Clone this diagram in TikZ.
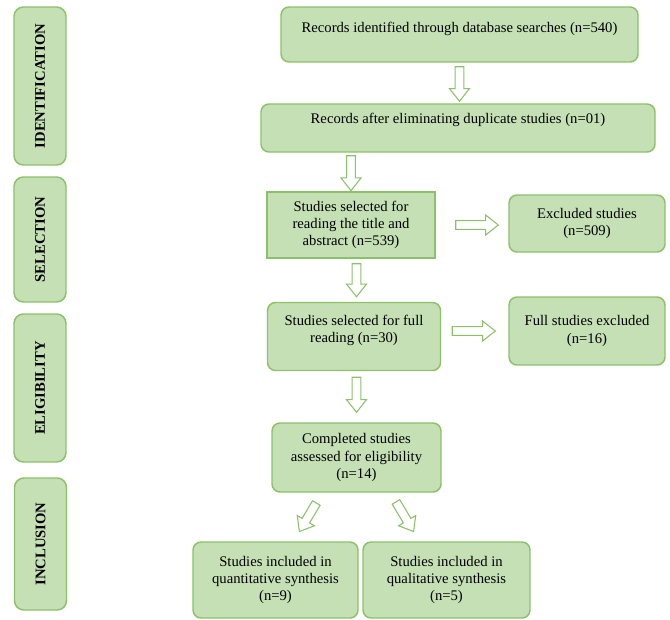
\documentclass[tikz,border=0pt]{standalone}
\usepackage{fontspec}
\setmainfont{Liberation Serif}
\usetikzlibrary{positioning, calc}

\definecolor{boxfill}{HTML}{C5E0B4}
\definecolor{boxline}{HTML}{8CC16A}

\begin{document}
\begin{tikzpicture}[x=0.75pt, y=-0.75pt,
  box/.style={draw=boxline, line width=1.1pt, fill=boxfill, rounded corners=6pt,
    align=center, inner sep=2pt, font=\fontsize{11}{13}\selectfont},
  stage/.style={box, rotate=90, rounded corners=7pt, minimum height=39pt,
    font=\fontsize{11}{13}\selectfont\bfseries},
  flow/.style 2 args={draw=boxline, fill=white, line width=0.8pt, to path={
    ($(\tikztostart)!#1!(\tikztotarget)$) coordinate (fs)
    ($(\tikztotarget)!#2!(\tikztostart)$) coordinate (ft)
    ($(ft)!9.5pt!(fs)$) coordinate (fn)
    ($(fs)!3.3pt!90:(ft)$) -- ($(fn)!3.3pt!-90:(fs)$) -- ($(fn)!7.5pt!-90:(fs)$)
    -- (ft) -- ($(fn)!7.5pt!90:(fs)$) -- ($(fn)!3.3pt!90:(fs)$)
    -- ($(fs)!3.3pt!-90:(ft)$) -- cycle}}]
  \useasboundingbox (0,0) rectangle (670,619);

  % stages
  \node[stage, minimum width=118.5pt] (ident) at (40,86) {IDENTIFICATION};
  \node[stage, minimum width=93.75pt] (select) at (40,239.5) {SELECTION};
  \node[stage, minimum width=111pt] (elig) at (40,388) {ELIGIBILITY};
  \node[stage, minimum width=99pt] (incl) at (40.5,544) {INCLUSION};

  % flow
  \node[box, minimum width=267.75pt, minimum height=41.25pt, text depth=11.5pt] (records) at (459.5,34.5) {Records identified through database searches (n=540)};
  \node[box, minimum width=295.5pt, minimum height=36pt, text depth=14pt] (dedup) at (458,128) {Records after eliminating duplicate studies (n=01)};
  \node[box, sharp corners, minimum width=126pt, minimum height=49.5pt] (screen) at (351,225) {Studies selected for\\ reading the title and\\ abstract (n=539)};
  \node[box, minimum width=117pt, minimum height=42.75pt] (excluded) at (587,223.5) {Excluded studies\\ (n=509)};
  \node[box, minimum width=129.75pt, minimum height=51pt, text depth=12pt] (full) at (354,336.5) {Studies selected for full\\ reading (n=30)};
  \node[box, minimum width=117pt, minimum height=51pt] (fullexcl) at (587,331) {Full studies excluded\\ (n=16)};
  \node[box, minimum width=126.75pt, minimum height=51.75pt] (assess) at (356.5,457.5) {Completed studies\\ assessed for eligibility\\ (n=14)};
  \node[box, minimum width=123.75pt, minimum height=57pt] (quant) at (275.5,580) {Studies included in\\ quantitative synthesis\\ (n=9)};
  \node[box, minimum width=125.25pt, minimum height=57pt] (qual) at (446.5,580) {Studies included in\\ qualitative synthesis\\ (n=5)};

  % arrows
  \draw[flow={3pt}{1.5pt}] (records.south) to (records.south |- dedup.north);
  \draw[flow={2.25pt}{0.5pt}] (dedup.south -| screen.north) to (screen.north);
  \draw[flow={15pt}{7.5pt}] (screen.east) to (screen.east -| excluded.west);
  \draw[flow={3.75pt}{3.75pt}] (screen.south -| assess.north) to (full.north -| assess.north);
  \draw[flow={8.25pt}{9.75pt}] (full.east |- fullexcl.west) to (fullexcl.west);
  \draw[flow={4.5pt}{7.5pt}] (full.south -| assess.north) to (assess.north);
  \draw[flow={9pt}{8.5pt}] (assess.226) to (quant.65);
  \draw[flow={8pt}{8.5pt}] (assess.314) to (qual.125);
\end{tikzpicture}
\end{document}
